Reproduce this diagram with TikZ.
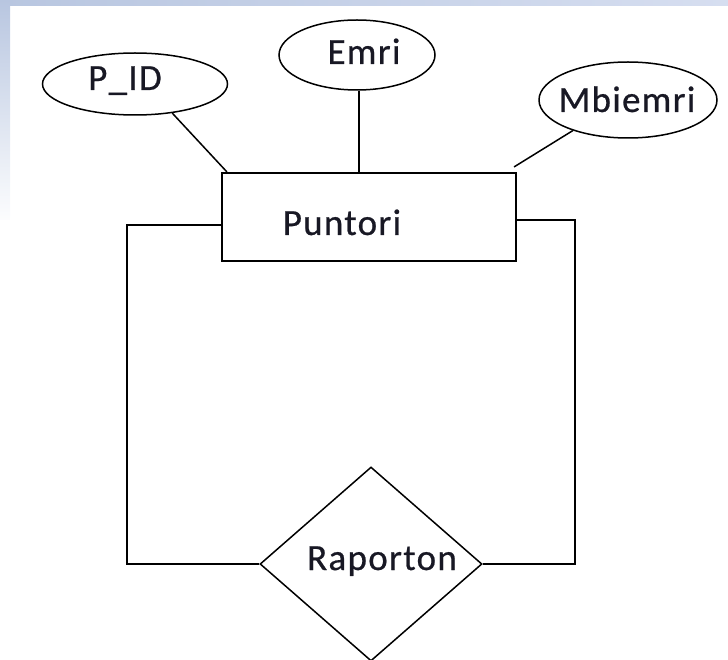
\documentclass[tikz,border=0pt]{standalone}
\usepackage{fontspec}
\setmainfont{Carlito}[LetterSpace=3.5, FakeBold=0.6]
\usetikzlibrary{shapes.geometric}
\definecolor{txt}{RGB}{24,24,36}
\definecolor{bandA}{RGB}{184,198,224}
\definecolor{bandB}{RGB}{214,222,240}
\tikzset{
  attr/.style={draw=black, ellipse, line width=1.5pt, inner sep=0pt},
  entity/.style={draw=black, rectangle, line width=2.2pt, inner sep=0pt},
  rel/.style={draw=black, diamond, line width=1.5pt, inner sep=0pt},
  lbl/.style={text=txt, font=\fontsize{37}{40}\selectfont, anchor=base, inner sep=0pt},
  conn/.style={draw=black, line width=2pt},
  thin conn/.style={draw=black, line width=1.5pt}
}
\begin{document}
\begin{tikzpicture}[x=1pt, y=-1pt]
\useasboundingbox (0,0) rectangle (728,660);
% background bands
\fill[left color=bandA, right color=bandB] (0,0) rectangle (728,6);
\fill[top color=bandA, bottom color=white!96!bandA] (0,0) rectangle (10,220);

% shapes
\node[attr, minimum width=185pt, minimum height=62pt] (pid) at (135,84) {};
\node[attr, minimum width=156pt, minimum height=70pt] (emri) at (357,55) {};
\node[attr, minimum width=178pt, minimum height=76pt] (mb) at (628,100) {};
\node[entity, minimum width=294pt, minimum height=88pt] (pun) at (369,217) {};
\node[rel, minimum width=222pt, minimum height=194pt] (rap) at (371,564) {};

% labels
\node[lbl] (pidT) at (125,90) {P\_ID};
\node[lbl] (emriT) at (364,64) {Emri};
\node[lbl] (mbT) at (627,112) {Mbiemri};
\node[lbl] (punT) at (342,235) {Puntori};
\node[lbl] (rapT) at (382,570) {Raporton};

% connectors
\coordinate (emriB) at ([xshift=2pt]emri.south);
\draw[thin conn] (pid.-38) -- ([xshift=6pt]pun.north west);
\draw[conn] (emriB) -- (pun.north -| emriB);
\draw[thin conn] (mb.209) -- ([xshift=-3pt,yshift=5pt]pun.north east);
\draw[conn] ([yshift=-8pt]pun.west) -- ++(-94,0) |- (rap.west);
\draw[conn] ([yshift=-3pt]pun.east) -- ++(58,0) |- (rap.east);
\end{tikzpicture}
\end{document}
